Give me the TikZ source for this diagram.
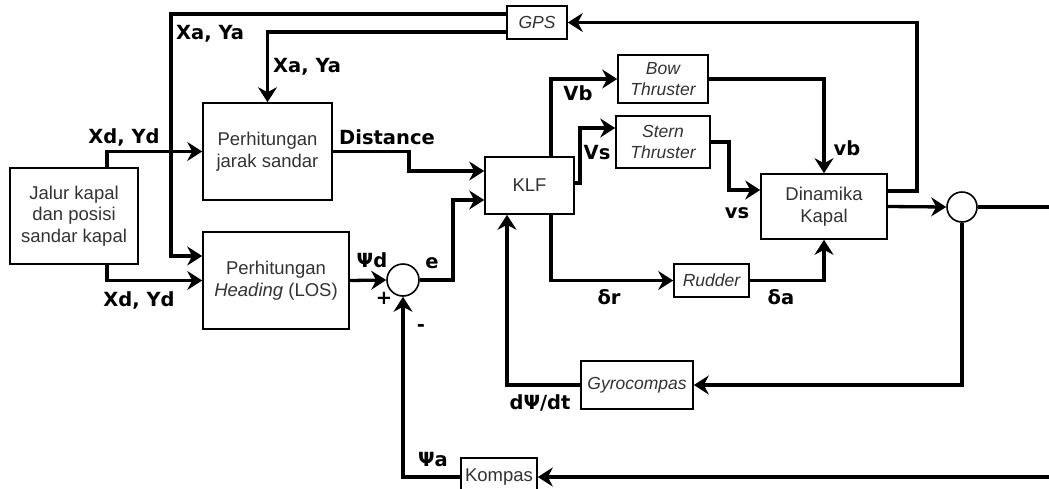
\documentclass[tikz,border=0pt]{standalone}
\usepackage{fontspec}
\setmainfont{Liberation Sans}
\newfontfamily\labfont{DejaVu Sans}
\usetikzlibrary{arrows.meta}
\definecolor{txt}{RGB}{51,51,51}
\tikzset{
 blk/.style={draw=black, line width=1.6pt, rectangle, inner sep=0pt, align=center, text=txt, font=\fontsize{18.5}{21.7}\selectfont},
 sblk/.style={blk, font=\fontsize{17.5}{21.3}\selectfont\itshape},
 sumc/.style={draw=black, circle, line width=1.6pt, inner sep=0pt},
 con/.style={line width=3.3pt, -{Stealth[length=15pt,width=19pt,inset=5pt]}},
 wire/.style={line width=3.3pt},
 lab/.style={font=\labfont\bfseries\fontsize{19.5}{22}\selectfont, inner sep=0pt, text=black},
}
\begin{document}
\begin{tikzpicture}[x=1pt,y=-1pt]
\clip (0,0) rectangle (1049,488);
\fill[white] (0,0) rectangle (1049,488);
% blocks
\node[blk, minimum width=128pt, minimum height=96pt] (jalur) at (74,216) {Jalur kapal\\dan posisi\\sandar kapal};
\node[blk, minimum width=129pt, minimum height=97pt] (jarak) at (267.5,151.5) {Perhitungan\\jarak sandar};
\node[blk, minimum width=146pt, minimum height=97pt] (heading) at (276,280.5) {Perhitungan\\\textit{Heading} (LOS)};
\node[sumc, minimum size=32pt] (sum1) at (403,280) {};
\node[blk, minimum width=89pt, minimum height=57pt] (klf) at (529.5,185.5) {KLF};
\node[sblk, minimum width=60pt, minimum height=33pt] (gps) at (537,22.5) {GPS};
\node[sblk, minimum width=90pt, minimum height=48pt] (bow) at (663,79) {Bow\\Thruster};
\node[sblk, minimum width=94pt, minimum height=52pt] (stern) at (663,142) {Stern\\Thruster};
\node[blk, minimum width=126pt, minimum height=65pt] (dyn) at (824,206.5) {Dinamika\\Kapal};
\node[sblk, minimum width=75pt, minimum height=33pt] (rudder) at (711.5,280.5) {Rudder};
\node[sumc, minimum size=30pt] (sum2) at (962,207) {};
\node[sblk, minimum width=112pt, minimum height=48pt] (gyro) at (637,385) {Gyrocompas};
\node[blk, minimum width=76pt, minimum height=38pt] (kompas) at (499,477) {Kompas};
\coordinate (outR) at (1060,207);
\coordinate (inR) at (1060,477);
% connectors
\draw[con] ([yshift=8.5pt]gps.west) -| (171,256) -- ([yshift=24.5pt]heading.west);
\draw[con] ([yshift=-9.5pt]gps.west) -| (jarak.north);
\draw[con] ([xshift=33pt]jalur.north) |- (jarak.west);
\draw[con] ([xshift=33pt]jalur.south) |- (heading.west);
\draw[con] (jarak.east) -| (409,171) -- ([yshift=14.5pt]klf.west);
\draw[con] (heading.east) -- (sum1.west);
\draw[con] (sum1.east) -| (453,200) -- ([yshift=-14.5pt]klf.west);
\draw[con] ([xshift=21.5pt]klf.north) |- (bow.west);
\draw[con] ([yshift=2.5pt]klf.east) -| (580,128) -- ([yshift=14pt]stern.west);
\draw[con] (bow.east) -| (dyn.north);
\draw[con] (stern.east) -| (729,190) -- ([yshift=16.5pt]dyn.west);
\draw[con] ([xshift=21.5pt]klf.south) |- (rudder.west);
\draw[con] (rudder.east) -| (dyn.south);
\draw[con] ([yshift=15.5pt]dyn.east) -| (917,22.5) -- (gps.east);
\draw[con] (dyn.east) -- (sum2.west);
\draw[wire] (sum2.east) -- (outR);
\draw[con] (sum2.south) |- (gyro.east);
\draw[con] (gyro.west) -| ([xshift=-22.5pt]klf.south);
\draw[con] (inR) -- (kompas.east);
\draw[con] (kompas.west) -| (sum1.south);
% labels
\node[lab, anchor=west] (lxa1) at (176,34) {Xa, Ya};
\node[lab, anchor=west] (lxa2) at (273,67) {Xa, Ya};
\node[lab] (lxd1) at (124,137) {Xd, Yd};
\node[lab] (ldist) at (387,137) {Distance};
\node[lab] (lxd2) at (139,300) {Xd, Yd};
\node[lab] (lpsid) at (372,260) {Ψd};
\node[lab] (lplus) at (384,298) {+};
\node[lab] (lminus) at (421,328) {-};
\node[lab] (le) at (432,263) {e};
\node[lab] (lpsia) at (433,460) {Ψa};
\node[lab] (lVb) at (578,93) {Vb};
\node[lab] (lVs) at (597,153) {Vs};
\node[lab] (lvb) at (847,148) {vb};
\node[lab] (lvs) at (737,213) {vs};
\node[lab] (ldr) at (609,297) {δr};
\node[lab] (lda) at (781,297) {δa};
\node[lab] (ldpsi) at (540,403) {dΨ/dt};
\end{tikzpicture}
\end{document}
